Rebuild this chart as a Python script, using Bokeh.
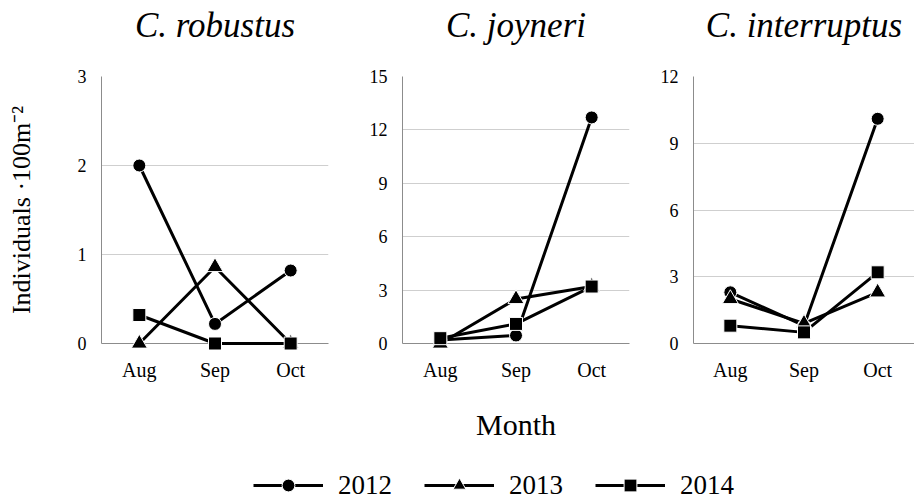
from bokeh.plotting import figure
from bokeh.models import (Range1d, FactorRange, FixedTicker, Legend, LegendItem,
                          ColumnDataSource)
from bokeh.layouts import column, row
from bokeh.embed import file_html
from bokeh.resources import INLINE

months = ["Aug", "Sep", "Oct"]
years = ["2012", "2013", "2014"]
species = ["C. robustus", "C. joyneri", "C. interruptus"]

robustus_2012 = [2.0, 0.22, 0.82]
robustus_2013 = [0.0, 0.86, 0.0]
robustus_2014 = [0.32, 0.0, 0.0]

joyneri_2012 = [0.2, 0.45, 12.7]
joyneri_2013 = [0.0, 2.5, 3.2]
joyneri_2014 = [0.3, 1.1, 3.2]

interruptus_2012 = [2.3, 0.8, 10.1]
interruptus_2013 = [2.0, 0.9, 2.3]
interruptus_2014 = [0.8, 0.5, 3.2]

y_max = [3, 15, 12]
y_ticks = [[0, 1, 2, 3], [0, 3, 6, 9, 12, 15], [0, 3, 6, 9, 12]]
y_label = "Individuals \u00b7100m\u207b\u00b2"
x_label = "Month"

data = [
    [robustus_2012, robustus_2013, robustus_2014],
    [joyneri_2012, joyneri_2013, joyneri_2014],
    [interruptus_2012, interruptus_2013, interruptus_2014],
]

SERIF = "Liberation Serif"
markers = ["circle", "triangle", "square"]
msizes = [13, 16, 13]

widths = [338, 301, 275]
left_b = [101, 64, 54]
right_b = [10, 10, 0]

figs = []
for i in range(3):
    p = figure(width=widths[i], height=453, output_backend="svg", toolbar_location=None,
               x_range=FactorRange(factors=months, range_padding=0),
               y_range=Range1d(0, y_max[i]),
               min_border_left=left_b[i], min_border_right=right_b[i],
               min_border_top=76, min_border_bottom=110)
    p.title.text = species[i]
    p.title.text_font = SERIF
    p.title.text_font_style = "italic"
    p.title.text_font_size = "35px"
    p.title.align = "center"
    p.title.text_color = "black"
    p.title.standoff = 0
    p.title.padding = dict(left=0, right=0, top=0, bottom=32)
    p.outline_line_color = None
    p.xgrid.grid_line_color = None
    p.ygrid.grid_line_color = "#cfcfcf"
    p.ygrid.grid_line_width = 1
    p.yaxis.ticker = FixedTicker(ticks=y_ticks[i])
    p.axis.axis_line_color = "#8c8c8c"
    p.axis.axis_line_width = 1
    p.axis.major_tick_line_color = None
    p.axis.minor_tick_line_color = None
    p.axis.major_label_text_font = SERIF
    p.axis.major_label_text_color = "black"
    p.yaxis.major_label_text_font = SERIF
    p.yaxis.major_label_text_font_size = "18px"
    p.yaxis.major_label_standoff = 9
    p.xaxis.major_label_text_font_size = "20px"
    p.xaxis.major_label_standoff = 9
    if i == 0:
        p.yaxis.axis_label = y_label
        p.yaxis.axis_label_text_font = SERIF
        p.yaxis.axis_label_text_font_style = "normal"
        p.yaxis.axis_label_text_font_size = "26px"
        p.yaxis.axis_label_text_color = "black"
        p.yaxis.axis_label_standoff = 39
    if i == 1:
        p.xaxis.axis_label = x_label
        p.xaxis.axis_label_text_font = SERIF
        p.xaxis.axis_label_text_font_style = "normal"
        p.xaxis.axis_label_text_font_size = "30px"
        p.xaxis.axis_label_text_color = "black"
        p.xaxis.axis_label_standoff = 24
    for j in range(3):
        src = ColumnDataSource(dict(x=months, y=data[i][j]))
        p.line("x", "y", source=src, line_color="black", line_width=3, level="overlay")
    for j in range(3):
        src = ColumnDataSource(dict(x=months, y=data[i][j]))
        p.scatter("x", "y", source=src, marker=markers[j], size=msizes[j],
                  fill_color="black", line_color="white", line_width=1, level="overlay")
    figs.append(p)

# legend strip (dummy renderers lie outside the visible range)
lg = figure(width=914, height=48, output_backend="svg", toolbar_location=None,
            x_range=Range1d(0, 1), y_range=Range1d(0, 1),
            min_border=0, min_border_left=0, min_border_right=0,
            min_border_top=0, min_border_bottom=0)
lg.axis.visible = False
lg.grid.visible = False
lg.outline_line_color = None
items = []
for j in range(3):
    dummy = ColumnDataSource(dict(x=[-5, -4], y=[-5, -5]))
    lr = lg.line("x", "y", source=dummy, line_color="black", line_width=3)
    sr = lg.scatter("x", "y", source=dummy, marker=markers[j], size=msizes[j],
                    fill_color="black", line_color="white", line_width=1)
    items.append(LegendItem(label=years[j], renderers=[lr, sr]))
legend = Legend(items=items, orientation="horizontal", location=(253, 0),
                glyph_width=70, glyph_height=32, label_standoff=15, spacing=32,
                padding=0, margin=0, border_line_color=None,
                background_fill_alpha=0,
                label_text_font=SERIF, label_text_font_size="27px",
                label_text_color="black")
lg.add_layout(legend, "center")

layout = column(row(*figs, spacing=0), lg, spacing=0)
open("out.html", "w").write(file_html(layout, INLINE))
